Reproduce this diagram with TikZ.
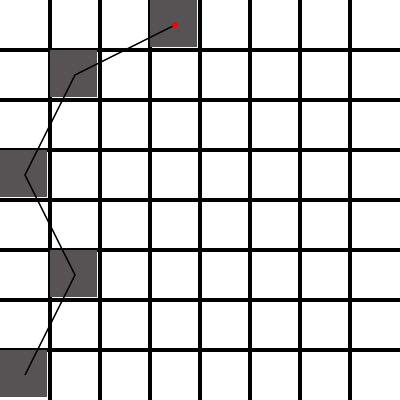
\documentclass[tikz,border=0pt]{standalone}
\begin{document}
\begin{tikzpicture}[x=0.75pt,y=-0.75pt,
  gridline/.style={black,line width=2.4pt},
  cell/.style={fill={rgb,255:red,87;green,82;blue,84}},
  route/.style={black,line width=1.1pt}]
\useasboundingbox[fill=white] (0,0) rectangle (400,400);
\foreach \k in {50,100,...,350}{
  \draw[gridline] (\k,0) -- (\k,400);
  \draw[gridline] (0,\k) -- (400,\k);
}
\foreach \c/\r in {3/0,1/1,0/3,1/5,0/7}{
  \fill[cell] (50*\c,50*\r) rectangle (50*\c+47,50*\r+47);
}
\coordinate (p1) at (175,25);
\coordinate (p2) at (75,75);
\coordinate (p3) at (25,175);
\coordinate (p4) at (75,275);
\coordinate (p5) at (25,375);
\draw[route] (p1) -- (p2) -- (p3) -- (p4) -- (p5);
\fill[red] (p1) circle (3);
\end{tikzpicture}
\end{document}
